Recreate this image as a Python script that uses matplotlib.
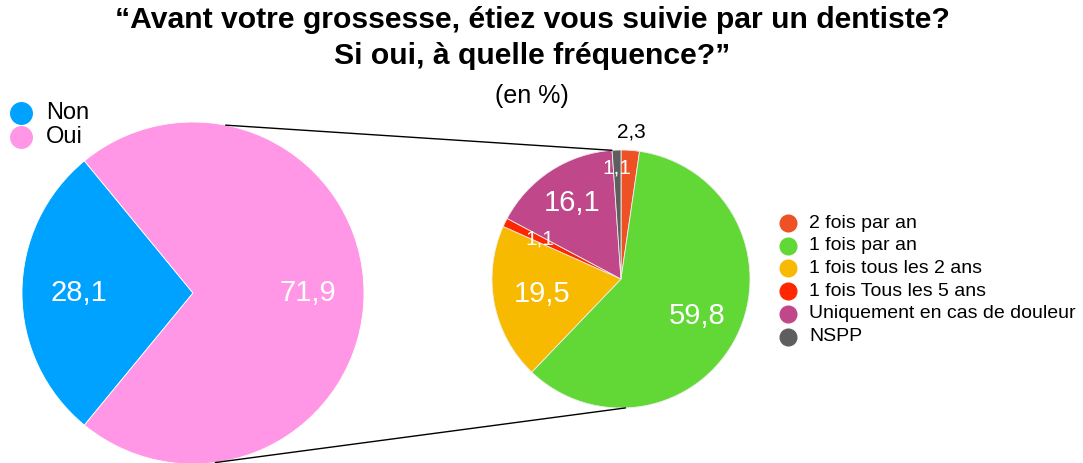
import matplotlib.pyplot as plt
import numpy as np
from matplotlib.lines import Line2D
from matplotlib.patches import ConnectionPatch

plt.rcParams['font.family'] = ['Liberation Sans', 'DejaVu Sans']

title_lines = ['\u201cAvant votre grossesse, étiez vous suivie par un dentiste?',
               'Si oui, à quelle fréquence?\u201d']
subtitle = '(en %)'

main_labels = ['Non', 'Oui']
main_values = [28.1, 71.9]
main_colors = ['#00A2FF', '#FF96E6']

sub_labels = ['2 fois par an', '1 fois par an', '1 fois tous les 2 ans',
              '1 fois Tous les 5 ans', 'Uniquement en cas de douleur', 'NSPP']
sub_values = [2.3, 59.8, 19.5, 1.1, 16.1, 1.1]
sub_colors = ['#EE5124', '#61D836', '#F8BA00', '#FF2600', '#C0478A', '#5E5E5E']

W, H = 1083, 463
fig = plt.figure(figsize=(W / 100, H / 100), dpi=100)


def px_axes(cx, cy, r):
    # axes box (in pixels from top-left) holding a unit-radius pie
    return fig.add_axes([(cx - r) / W, (H - cy - r) / H, 2 * r / W, 2 * r / H])


def fix_axes(ax):
    ax.set_xlim(-1, 1)
    ax.set_ylim(-1, 1)
    ax.set_aspect('equal')
    ax.axis('off')


def put_labels(ax, wedges, values, dists, sizes, colors):
    for w, v, d, s, c in zip(wedges, values, dists, sizes, colors):
        mid = np.deg2rad((w.theta1 + w.theta2) / 2)
        ax.text(d * np.cos(mid), d * np.sin(mid), f'{v:.1f}'.replace('.', ','),
                ha='center', va='center', fontsize=s, color=c, clip_on=False)


# big pie
ax1 = px_axes(193, 293, 171)
start = 180 - main_values[0] * 3.6 / 2
w1, _ = ax1.pie(main_values, colors=main_colors, startangle=start, radius=1,
                wedgeprops=dict(edgecolor='white', linewidth=0.6))
fix_axes(ax1)
for w in w1:
    w.set_clip_on(False)
put_labels(ax1, w1, main_values, [0.67, 0.67], [21, 21], ['white', 'white'])

# small pie
ax2 = px_axes(621, 279, 129)
w2, _ = ax2.pie(sub_values, colors=sub_colors, startangle=90, counterclock=False,
                radius=1, wedgeprops=dict(edgecolor='#EEEEEE', linewidth=0.6))
fix_axes(ax2)
put_labels(ax2, w2, sub_values, [1.14, 0.66, 0.62, 0.70, 0.70, 0.86],
           [15, 21, 21, 15, 21, 15],
           ['black', 'white', 'white', 'white', 'white', 'white'])

# connector lines
for a1, a2 in [(79, 94), (-82.5, 272)]:
    t1, t2 = np.deg2rad(a1), np.deg2rad(a2)
    con = ConnectionPatch(xyA=(np.cos(t1), np.sin(t1)), coordsA=ax1.transData,
                          xyB=(np.cos(t2), np.sin(t2)), coordsB=ax2.transData,
                          color='black', linewidth=1)
    fig.add_artist(con)

# titles
cx = 532 / W
fig.text(cx, 1 - 20 / H, title_lines[0], ha='center', va='center',
         fontsize=21.7, fontweight='bold')
fig.text(cx, 1 - 56 / H, title_lines[1], ha='center', va='center',
         fontsize=21.7, fontweight='bold')
fig.text(cx, 1 - 96 / H, subtitle, ha='center', va='center', fontsize=18)

# legends
def legend_rows(labels, colors, x, y0, step, size, msize, gap):
    for i, (lab, col) in enumerate(zip(labels, colors)):
        y = 1 - (y0 + i * step) / H
        fig.add_artist(Line2D([x / W], [y], marker='o', markersize=msize,
                              color=col, linestyle='none'))
        fig.text((x + gap) / W, y, lab, ha='left', va='center', fontsize=size)


legend_rows(main_labels, main_colors, 21, 113, 24, 17, 15.5, 25)
legend_rows(sub_labels, sub_colors, 788, 223, 22.7, 14, 12, 21)

fig.savefig('out.png', dpi=100)
